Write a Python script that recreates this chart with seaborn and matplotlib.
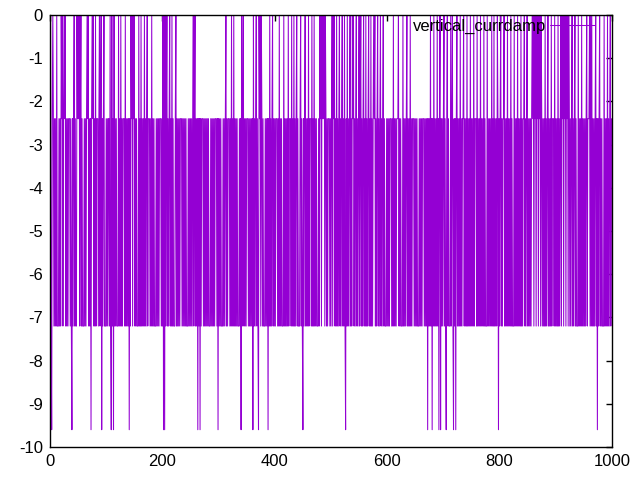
import numpy as np
import pandas as pd
import matplotlib
matplotlib.use("Agg")
import matplotlib.pyplot as plt
import seaborn as sns

# Level codes: a=0, b=-2.4, c=-7.2, d=-9.6
level_codes = {"a": 0.0, "b": -2.4, "c": -7.2, "d": -9.6}
series_name = "vertical_currdamp"

blocks = [
    "cacdbabcbc" "bcacccbcbc" "abacbabacb" "cbcbbbcbcd" "bcbacbccab",
    "abacbacbcc" "cbcbcbabac" "bcbdbabacb" "cacbbbcbac" "badbcbaccc",
    "bcbcbbcacd" "acbdacbcbc" "ccacbcacbc" "bbbcacbcbc" "bdbcabacab",
    "acbcbcccac" "bcacbcbcac" "bcbacbbbcb" "cacbcbcccb" "cbcbcbbbcb",
    "cadadacbac" "bcbacbcacb" "cccbacbcbc" "bcbbbcbcbc" "bcbcccbcbc",
    "bcbcbacbac" "bcbdbcbdbc" "bbbcbcbcbc" "bcbcccbcbc" "bcbcbbbcbd",
    "bcbcbcccbc" "bcbacbcbbb" "cbcacbcacb" "cbcbcccbcb" "dacbacbcbc",
    "bbbcbcbcbc" "bdacbcbacb" "cdabacabcb" "cccbcbcbdb" "cacbcbacbc",
    "bcbbbcbcac" "bcbcccacbc" "bcbcacbbbc" "acbcacbcba" "cbcccbacbc",
    "dbcbacbcbc" "acbbbcacbc" "acbcbcccbc" "abacababac" "abcbcbbbcb",
    "cbacabacbc" "acbcbacbcb" "acbcacdbca" "cbcbacbcab" "acbcbacbcb",
    "acbacbcbac" "bcacbcbacb" "cacbcbabac" "bcbacbcbac" "bcbacbcccb",
    "cbcbcbbbcb" "cacbcbcbbb" "acbcbcccac" "bcbcbacbcb" "cacbcbbbcb",
    "cbcbcccbcb" "cbcbbbcbcb" "cbdbcbcacb" "dbcacbcbca" "cbdbadbcbc",
    "bacbcdbacb" "cccacbacdb" "cbdbacbcbc" "acbcbbacbc" "bcacbcbcac",
    "bcbcacbbbc" "acbcbcacbc" "bcacbcccac" "bcbcbcacbc" "acbcbcabdb",
    "cbacbcbbac" "bcbcacbcbc" "acbcccacbc" "bcacbcbcac" "bcbbacbcba",
    "cbcbcbcbab" "acabacabac" "abacabcbcb" "cacbcbacbc" "bcacbbbcac",
    "bcbcacbcba" "cabacabaca" "bacabcbcba" "cbcbacbccc" "acbcbcacbc",
    "bcbcbacbbb" "acacacbcbc" "bacbdbcbac" "bcbcccacbc" "bcacbcbacb",
]

codes = "".join(blocks)
values = [level_codes[ch] for ch in codes]
steps = list(range(len(values)))

df = pd.DataFrame({"step": steps, "value": values})

sns.set_theme(style="white")
plt.rcParams["font.family"] = ["Liberation Sans", "DejaVu Sans"]

fig = plt.figure(figsize=(6.4, 4.8), dpi=100)
ax = fig.add_axes([50 / 640, 1 - 447 / 480, (612 - 50) / 640, (447 - 15) / 480])

sns.lineplot(data=df, x="step", y="value", ax=ax, color="#9400D3",
             linewidth=0.75, label=series_name, estimator=None,
             errorbar=None, sort=False)

ax.set_xlim(0, 1000)
ax.set_ylim(-10, 0)
ax.set_xticks(np.arange(0, 1001, 200))
ax.set_yticks(np.arange(-10, 0.1, 1))
ax.set_yticklabels([f"{int(v)}" for v in np.arange(-10, 0.1, 1)])
ax.set_xlabel("")
ax.set_ylabel("")
ax.tick_params(direction="in", length=4, width=1, color="black",
               top=True, right=True, labelsize=12, labelcolor="black", pad=5)
for s in ax.spines.values():
    s.set_visible(True)
    s.set_color("black")
    s.set_linewidth(1)

leg = ax.legend(loc="upper right", frameon=False, markerfirst=False,
                handlelength=2.7, fontsize=12, bbox_to_anchor=(0.97, 0.99),
                handletextpad=0.25, borderaxespad=0.0, borderpad=0.0)
for t in leg.get_texts():
    t.set_color("black")

fig.savefig("out.png", dpi=100, facecolor="white")
